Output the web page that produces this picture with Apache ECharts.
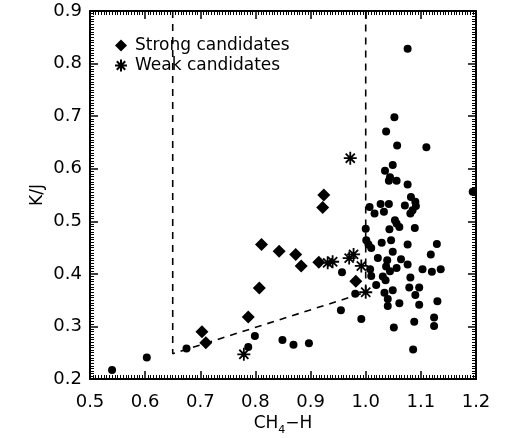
<!DOCTYPE html>
<html>
<head>
<meta charset="utf-8">
<script src="https://cdn.jsdelivr.net/npm/echarts@6/dist/echarts.min.js"></script>
<style>
html, body { margin: 0; padding: 0; background: #fff; }
#kj_chart { width: 508px; height: 438px; }
</style>
</head>
<body>
<div id="kj_chart"></div>
<script>
// 候选体 (CH4-H, K/J)
var strongPts = [
	[0.811, 0.456], [0.843, 0.443], [0.873, 0.437], [0.883, 0.415], [0.915, 0.422],
	[0.807, 0.373], [0.787, 0.318], [0.703, 0.290], [0.710, 0.269], [0.924, 0.550],
	[0.922, 0.526], [0.982, 0.386]
];
var weakPts = [
	[0.972, 0.620], [0.931, 0.421], [0.940, 0.423], [0.970, 0.430], [0.978, 0.437],
	[0.992, 0.415], [1.000, 0.365], [0.779, 0.247]
];
// 背景天体
var fieldPts = [
	[1.076, 0.828], [1.052, 0.698], [1.037, 0.671], [1.057, 0.644], [1.110, 0.641],
	[1.049, 0.607], [1.035, 0.596], [1.044, 0.584], [1.042, 0.577], [1.056, 0.577],
	[1.076, 0.570], [1.194, 0.556], [1.082, 0.546], [1.090, 0.537], [1.091, 0.529],
	[1.071, 0.530], [1.085, 0.521], [1.081, 0.515], [1.007, 0.527], [1.016, 0.515],
	[1.027, 0.533], [1.042, 0.533], [1.033, 0.518], [1.053, 0.502], [1.056, 0.496],
	[1.061, 0.489], [1.000, 0.486], [1.043, 0.485], [1.089, 0.487],
	[1.001, 0.464], [1.005, 0.456], [1.010, 0.449], [1.029, 0.459], [1.046, 0.464],
	[1.076, 0.456], [1.129, 0.457], [1.049, 0.442], [1.118, 0.437], [1.022, 0.430],
	[1.039, 0.426], [1.064, 0.428], [0.957, 0.403], [1.008, 0.409], [1.037, 0.414],
	[1.044, 0.405], [1.056, 0.411], [1.076, 0.418], [1.103, 0.409], [1.120, 0.404],
	[1.136, 0.409], [1.010, 0.396], [1.031, 0.395], [1.036, 0.388], [1.081, 0.393],
	[1.019, 0.379], [1.034, 0.364], [1.049, 0.369], [1.079, 0.374], [1.097, 0.374],
	[1.090, 0.360], [0.981, 0.362], [1.040, 0.352], [1.040, 0.339], [1.061, 0.344],
	[1.097, 0.341], [1.130, 0.348], [0.955, 0.331], [0.992, 0.314], [1.051, 0.298],
	[1.088, 0.309], [1.124, 0.317], [1.124, 0.301], [1.086, 0.256], [0.849, 0.274],
	[0.869, 0.265], [0.897, 0.268], [0.540, 0.217], [0.603, 0.241], [0.675, 0.258],
	[0.799, 0.282], [0.787, 0.261]
];
// 选择边界 (虚线)
var cutLine = [[0.65, 0.9], [0.65, 0.248], [1.0, 0.365], [1.0, 0.9]];

var legendNames = ['Strong candidates', 'Weak candidates'];
var xRange = [0.5, 1.2];
var yRange = [0.2, 0.9];

var fontName = 'DejaVu Sans';
var starPath = 'path://M10,0L10,20M0,10L20,10M3,3L17,17M3,17L17,3';

function make_axis(pos, showLabel, range) {
	var ax = {
		type : 'value',
		min : range[0],
		max : range[1],
		interval : 0.1,
		axisLine : { show : true, lineStyle : { color : '#000', width : 2 } },
		axisTick : { show : true, inside : true, length : 8, lineStyle : { color : '#000', width : 1.5 } },
		minorTick : { show : true, splitNumber : 20, length : 4, lineStyle : { color : '#000', width : 1 } },
		axisLabel : { show : showLabel, color : '#000', fontFamily : fontName, fontSize : 18,
			formatter : function(v) { return v.toFixed(1); } },
		splitLine : { show : false }
	};
	if (pos == 'top' || pos == 'right') {
		ax.position = pos;
	}
	return ax;
}

var kj_chart = echarts.init(document.getElementById('kj_chart'));

var xBottom = make_axis('bottom', true, xRange);
xBottom.axisLabel.margin = 14;
var xTop = make_axis('top', false, xRange);
var yLeft = make_axis('left', true, yRange);
yLeft.axisLabel.margin = 8;
var yRight = make_axis('right', false, yRange);

var option = {
	backgroundColor : '#fff',
	animation : false,
	grid : {
		left : 90,
		right : 32,
		top : 11,
		bottom : 59,
		outerBoundsMode : 'none'
	},
	legend : {
		data : legendNames,
		orient : 'vertical',
		left : 114,
		top : 37,
		padding : 0,
		itemWidth : 12,
		itemHeight : 12,
		itemGap : 3,
		textStyle : {
			fontFamily : fontName,
			fontSize : 17,
			color : '#000',
			padding : [ 0, 0, 0, 3 ]
		}
	},
	// 坐标轴标题
	graphic : [ {
		type : 'text',
		x : 283,
		y : 424,
		style : {
			text : '{a|CH}{s|4}{a|−H}',
			align : 'center',
			verticalAlign : 'middle',
			fill : '#000',
			rich : {
				a : { fontFamily : fontName, fontSize : 17, fill : '#000' },
				s : { fontFamily : fontName, fontSize : 11, fill : '#000', padding : [ 12, 0, 0, 0 ] }
			}
		}
	}, {
		type : 'text',
		x : 38,
		y : 195,
		rotation : Math.PI / 2,
		style : {
			text : 'K/J',
			align : 'center',
			verticalAlign : 'middle',
			fill : '#000',
			font : '17px "DejaVu Sans"'
		}
	} ],
	xAxis : [ xBottom, xTop ],
	yAxis : [ yLeft, yRight ],
	series : [ {
		type : 'line',
		data : cutLine,
		symbol : 'none',
		silent : true,
		lineStyle : { color : '#000', width : 1.6, type : [ 7, 6 ] }
	}, {
		name : 'Field',
		type : 'scatter',
		data : fieldPts,
		symbol : 'circle',
		symbolSize : 8,
		itemStyle : { color : '#000', opacity : 1 }
	}, {
		name : legendNames[0],
		type : 'scatter',
		data : strongPts,
		symbol : 'diamond',
		symbolSize : 13,
		itemStyle : { color : '#000', opacity : 1 }
	}, {
		name : legendNames[1],
		type : 'scatter',
		data : weakPts,
		symbol : starPath,
		symbolSize : 13,
		itemStyle : { color : '#000', opacity : 1, borderColor : '#000', borderWidth : 1.8 }
	} ]
};
kj_chart.setOption(option);
</script>
</body>
</html>
